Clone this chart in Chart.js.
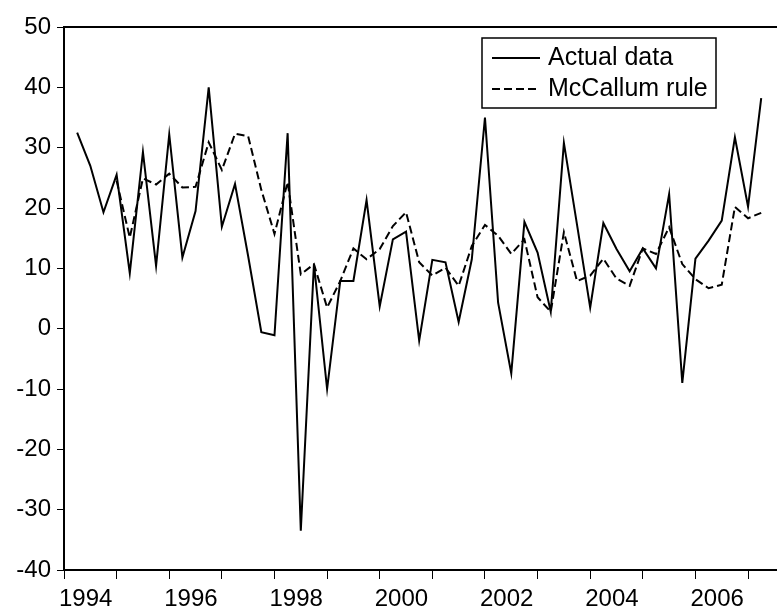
<!DOCTYPE html>
<html>
<head>
<meta charset="utf-8">
<script src="https://cdn.jsdelivr.net/npm/chart.js@4.4.0/dist/chart.umd.min.js"></script>
<style>
  html, body { margin: 0; padding: 0; background: #fff; }
</style>
</head>
<body>
<canvas id="myChart" width="777" height="608"></canvas>
<script>
// quarterly series, first observation is 1994Q2 (x counted in quarters from 1994Q1)
const firstQuarter = 1;
const years = [1994, 1995, 1996, 1997, 1998, 1999, 2000, 2001, 2002, 2003, 2004, 2005, 2006, 2007];

const actualData = [
  32.5, 27.0, 19.3,
  25.5, 9.2, 29.3, 10.4,
  32.2, 11.8, 19.5, 40.0,
  16.9, 24.0, 12.0, -0.6,
  -1.1, 32.4, -33.5, 10.7,
  -10.0, 7.9, 7.9, 21.3,
  3.7, 14.8, 16.1, -2.0,
  11.4, 11.0, 1.1, 11.5,
  35.0, 4.3, -7.4, 17.7,
  12.6, 2.8, 30.8, 17.2,
  3.5, 17.5, 13.2, 9.5,
  13.3, 10.0, 22.3, -9.0,
  11.6, 14.6, 17.9, 31.7,
  20.2, 38.2
];

const mccallumData = [
  null, null, null,
  24.5, 15.1, 24.9, 23.9,
  25.7, 23.4, 23.5, 30.9,
  26.3, 32.3, 31.9, 23.0,
  15.7, 24.3, 9.0, 10.7,
  3.5, 7.9, 13.3, 11.5,
  13.2, 17.0, 19.3, 11.0,
  8.8, 10.1, 7.1, 13.7,
  17.2, 15.4, 12.4, 14.8,
  5.2, 2.8, 16.0, 7.9,
  8.8, 11.6, 8.3, 7.1,
  13.3, 12.4, 16.8, 10.7,
  8.2, 6.7, 7.3, 20.2,
  18.3, 19.2
];

const toPoints = (arr) => arr.map((v, i) => ({ x: firstQuarter + i, y: v }));

const frameTop = {
  id: 'frameTop',
  afterDraw(chart) {
    const { ctx, chartArea } = chart;
    ctx.save();
    ctx.strokeStyle = '#000';
    ctx.lineWidth = 2;
    ctx.beginPath();
    ctx.moveTo(chartArea.left, chartArea.top);
    ctx.lineTo(chartArea.right, chartArea.top);
    ctx.stroke();
    ctx.restore();
  }
};

// boxed legend in the upper right, EViews style
const boxLegend = {
  id: 'boxLegend',
  afterDraw(chart) {
    const ctx = chart.ctx;
    const box = { x: 482, y: 38, w: 234, h: 70 };
    ctx.save();
    ctx.fillStyle = '#fff';
    ctx.fillRect(box.x, box.y, box.w, box.h);
    ctx.strokeStyle = '#000';
    ctx.lineWidth = 1.5;
    ctx.strokeRect(box.x, box.y, box.w, box.h);
    ctx.font = '25px "Liberation Sans", Arial, sans-serif';
    ctx.textBaseline = 'middle';
    ctx.fillStyle = '#000';
    chart.data.datasets.forEach((ds, i) => {
      const y = 58 + i * 31;
      ctx.strokeStyle = ds.borderColor;
      ctx.lineWidth = ds.borderWidth;
      ctx.setLineDash(ds.borderDash || []);
      ctx.beginPath();
      ctx.moveTo(492, y);
      ctx.lineTo(540, y);
      ctx.stroke();
      ctx.setLineDash([]);
      ctx.fillText(ds.label, 548, y);
    });
    ctx.restore();
  }
};

const ctx = document.getElementById('myChart');

const myChart = new Chart(ctx, {
  type: 'line',
  data: {
    datasets: [{
      label: 'Actual data',
      data: toPoints(actualData),
      borderColor: '#000',
      borderWidth: 2,
      pointRadius: 0,
      tension: 0,
      fill: false
    }, {
      label: 'McCallum rule',
      data: toPoints(mccallumData),
      borderColor: '#000',
      borderWidth: 2,
      borderDash: [8, 4],
      pointRadius: 0,
      tension: 0,
      fill: false
    }]
  },
  options: {
    responsive: false,
    animation: false,
    devicePixelRatio: 1,
    layout: { padding: { top: 27, right: 0, left: 0, bottom: 0 } },
    plugins: {
      legend: { display: false },
      tooltip: { enabled: false }
    },
    scales: {
      x: {
        type: 'linear',
        min: 0,
        max: 54.2,
        afterBuildTicks: (scale) => {
          scale.ticks = years.map(y => ({ value: (y - 1994) * 4 }));
        },
        afterFit: (scale) => { scale.height = 38; },
        ticks: {
          callback: (value) => {
            const yr = 1994 + value / 4;
            return yr % 2 === 0 ? String(yr) : '';
          },
          autoSkip: false,
          maxRotation: 0,
          align: 'start',
          labelOffset: -5,
          padding: 6,
          color: '#000',
          font: { family: '"Liberation Sans", Arial, sans-serif', size: 24 }
        },
        grid: {
          drawOnChartArea: false,
          drawTicks: true,
          tickLength: 9,
          color: '#000',
          lineWidth: 1
        },
        border: { color: '#000', width: 2 }
      },
      y: {
        min: -40,
        max: 50,
        afterFit: (scale) => { scale.width = 64; },
        ticks: {
          stepSize: 10,
          padding: 6,
          color: '#000',
          font: { family: '"Liberation Sans", Arial, sans-serif', size: 24 }
        },
        grid: {
          drawOnChartArea: false,
          drawTicks: true,
          tickLength: 7,
          color: '#000',
          lineWidth: 1
        },
        border: { color: '#000', width: 2 }
      }
    }
  },
  plugins: [frameTop, boxLegend]
});
</script>
</body>
</html>
